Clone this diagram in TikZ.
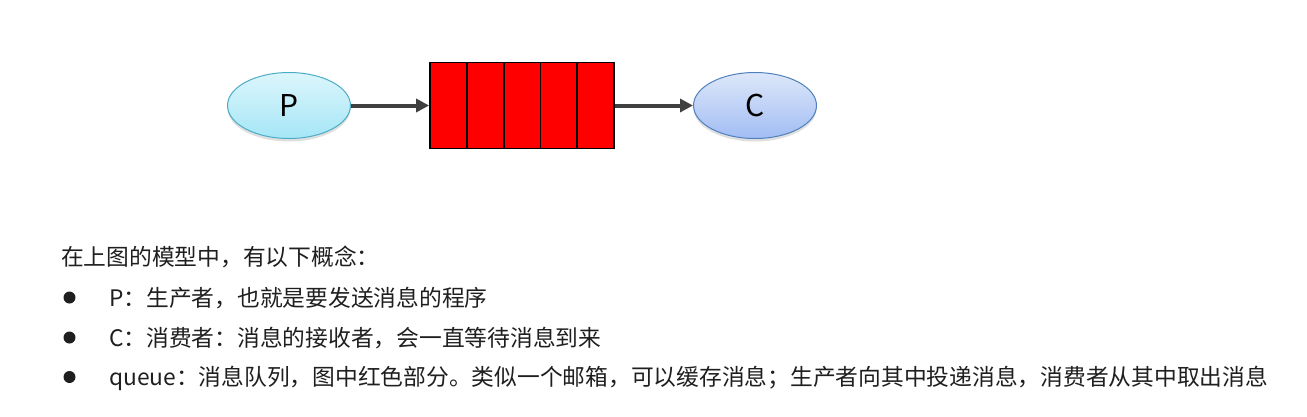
\documentclass[tikz,border=0pt]{standalone}
\usepackage{fontspec}
\newfontfamily\cjk{Noto Sans CJK SC}
\usetikzlibrary{shapes.geometric,arrows.meta,shadows}
\definecolor{pborder}{HTML}{4BACC6}
\definecolor{ptop}{HTML}{DCF6FC}
\definecolor{pbot}{HTML}{A5E6F6}
\definecolor{cborder}{HTML}{4F81BD}
\definecolor{ctop}{HTML}{DDE7F9}
\definecolor{cbot}{HTML}{A2BDF4}
\definecolor{arrowgray}{HTML}{404040}
\definecolor{textgray}{HTML}{1F1F1F}
\tikzset{
	role/.style={ellipse, draw, line width=1pt, minimum width=123, minimum height=66, inner sep=0pt,
		font=\cjk\fontsize{30}{32}\selectfont,
		drop shadow={shadow xshift=0pt, shadow yshift=-3pt, opacity=0.25, fill=gray}},
	flow/.style={-{Triangle[length=13pt,width=13pt]}, line width=4pt, color=arrowgray},
	line/.style={anchor=west, inner sep=0pt, text=textgray, font=\cjk\fontsize{22.75}{26}\selectfont},
	dot/.style={circle, fill=textgray, inner sep=0pt, minimum size=12}
}
\begin{document}
\begin{tikzpicture}[x=1pt, y=-1pt]
	\useasboundingbox[fill=white] (0,0) rectangle (1307,416);

	% producer, queue, consumer
	\node[role, draw=pborder, top color=ptop, bottom color=pbot] (P) at (289,105.5) {P};
	\node[draw=black, line width=1.8pt, fill=red, minimum width=184, minimum height=86, inner sep=0pt] (queue) at (522,105.5) {};
	\foreach \x in {1,...,4}
		\draw[line width=1.8pt] (430+36.8*\x,62.5) -- (430+36.8*\x,148.5);
	\node[role, draw=cborder, top color=ctop, bottom color=cbot] (C) at (755,105.5) {C};

	\draw[flow] (P) -- (queue);
	\draw[flow] (queue) -- (C);

	% explanation
	\node[line] (intro) at (61,257) {在上图的模型中，有以下概念：};
	\node[dot] (dot1) at (69.5,297.5) {};
	\node[dot] (dot2) at (69.5,337.5) {};
	\node[dot] (dot3) at (69.5,377) {};
	\node[line] (item1) at (109,298) {P：生产者，也就是要发送消息的程序};
	\node[line] (item2) at (109,338) {C：消费者：消息的接收者，会一直等待消息到来};
	\node[line] (item3) at (109,378) {queue：消息队列，图中红色部分。类似一个邮箱，可以缓存消息；生产者向其中投递消息，消费者从其中取出消息};
\end{tikzpicture}
\end{document}
